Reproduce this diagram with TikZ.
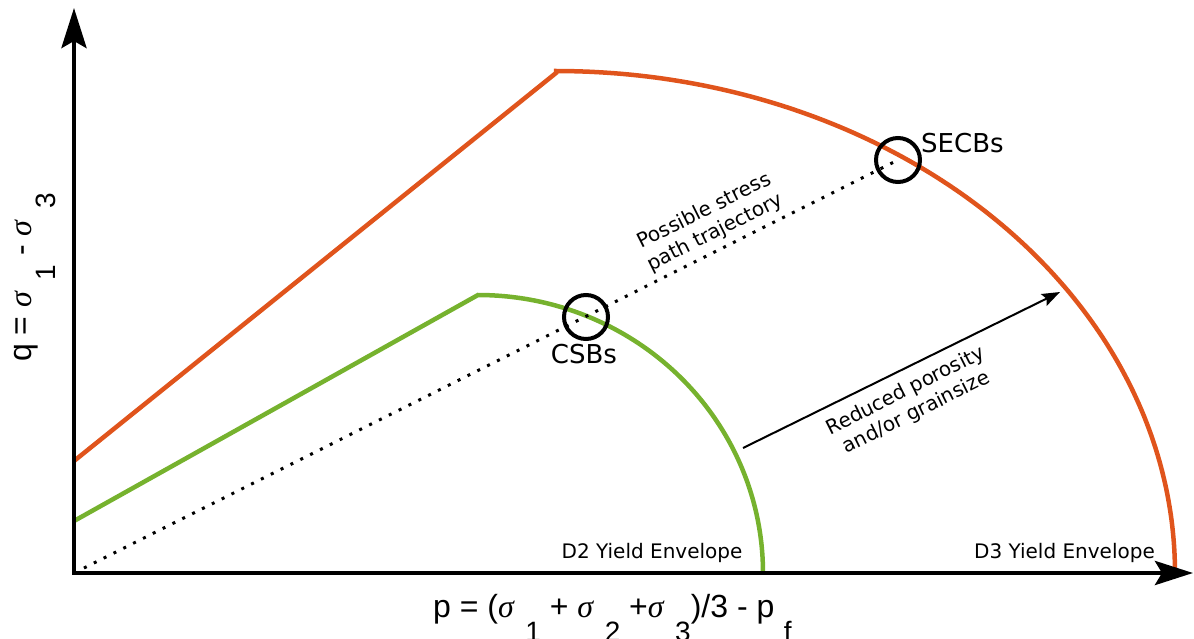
\documentclass[tikz,border=0pt]{standalone}
\usepackage{fontspec}
\setmainfont{DejaVu Sans}
\newfontfamily\arialf{Liberation Sans}
\newfontfamily\sigfont{Liberation Serif}
\usetikzlibrary{arrows.meta}
\definecolor{envorange}{RGB}{224,84,28}
\definecolor{envgreen}{RGB}{118,178,46}
\newcommand\sg{{\sigfont\itshape σ}\hspace{0.06em}}
\newcommand\lsub[1]{\hspace{0.3em}\raisebox{-0.78em}{\fontsize{28}{28}\selectfont #1}}
\tikzset{
  axisline/.style={line width=4.5pt, line join=miter, {Stealth[length=40pt,width=25pt,inset=7pt]}-{Stealth[length=38pt,width=24pt,inset=7pt]}},
  envline/.style={line width=4.5pt, line join=miter},
  pathdots/.style={line width=3pt, dash pattern=on 3pt off 8pt},
  markcirc/.style={circle, draw, line width=4pt, minimum size=44pt, inner sep=0pt},
  smalllbl/.style={font=\fontsize{20}{24}\selectfont, inner sep=0pt},
  biglbl/.style={font=\fontsize{26}{30}\selectfont, inner sep=0pt},
  axislbl/.style={font=\arialf\fontsize{32}{36}\selectfont, inner sep=0pt},
  trendarrow/.style={line width=2pt, -{Stealth[length=18pt,width=13pt,inset=3pt]}}
}
\begin{document}
\begin{tikzpicture}[x=1pt,y=-1pt]
\useasboundingbox (0,0) rectangle (1194,639);
% envelopes
\draw[envline, envorange] (74,461) -- (556,73)
  -- plot[domain=90:0, samples=120] ({556+619*cos(\x)}, {573-502*sin(\x)});
\draw[envline, envgreen] (74,521) -- (478,295)
  -- plot[domain=90:0, samples=120] ({478+285*cos(\x)}, {573-278*sin(\x)});
% markers
\node[markcirc] (csb) at (586,317) {};
\node[markcirc] (secb) at (898,160) {};
% stress path
\coordinate (pstart) at (84,568);
\draw[pathdots] (pstart) -- (secb.center);
% axes
\coordinate (O) at (74,573);
\coordinate (ytip) at (74,8);
\coordinate (xtip) at (1193,573);
\draw[axisline] (ytip) -- (O) -- (xtip);
% trend arrow
\coordinate (tA) at (743,448);
\coordinate (tB) at (1060,292);
\draw[trendarrow] (tA) -- (tB);
% labels
\node[biglbl, anchor=base] (csbl) at (584,363) {CSBs};
\node[biglbl, anchor=base west] (secbl) at (921,153) {SECBs};
\node[smalllbl, rotate=26.6, align=center] (pathl) at (710,222) {Possible stress\\path trajectory};
\node[smalllbl, rotate=26.6, align=center] (trendl) at (911,402) {Reduced porosity\\and/or grainsize};
\node[smalllbl, anchor=base] (d2l) at (652,558) {D2 Yield Envelope};
\node[smalllbl, anchor=base east] (d3l) at (1155,558) {D3 Yield Envelope};
\node[axislbl, anchor=base west] (xl) at (433,617) {p = (\sg\lsub{1} + \sg\lsub{2} +\sg\lsub{3})/3 - p\lsub{f}};
\node[axislbl, anchor=base west, rotate=90] (yl) at (31,362) {q = \sg\lsub{1} - \sg\lsub{3}};
\end{tikzpicture}
\end{document}
